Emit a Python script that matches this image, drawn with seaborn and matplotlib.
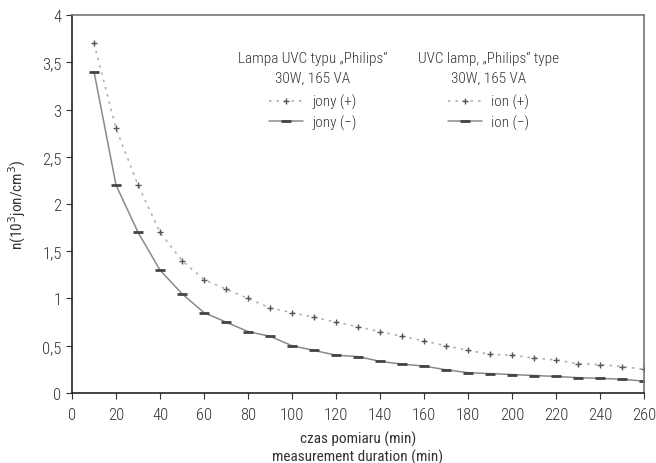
import numpy as np
import pandas as pd
import seaborn as sns
import matplotlib.pyplot as plt
from matplotlib.lines import Line2D

# measurement times (min)
czas = [10, 20, 30, 40, 50, 60, 70, 80, 90, 100, 110, 120, 130,
        140, 150, 160, 170, 180, 190, 200, 210, 220, 230, 240, 250, 260]
# positive ions, 10^3 ion/cm^3
jony_plus = [3.7, 2.8, 2.2, 1.7, 1.4, 1.2, 1.1, 1.0, 0.9, 0.85, 0.8, 0.75, 0.7,
             0.65, 0.6, 0.55, 0.5, 0.45, 0.41, 0.4, 0.37, 0.35, 0.31, 0.3, 0.28, 0.25]
# negative ions
jony_minus = [3.4, 2.2, 1.7, 1.3, 1.05, 0.85, 0.75, 0.65, 0.6, 0.5, 0.45, 0.4, 0.385,
              0.335, 0.305, 0.285, 0.245, 0.215, 0.205, 0.195, 0.185, 0.175, 0.162,
              0.155, 0.145, 0.125]

df = pd.DataFrame({"czas": czas, "plus": jony_plus, "minus": jony_minus})

sns.set_style("ticks")
plt.rcParams['font.family'] = ['Roboto Condensed', 'Roboto', 'DejaVu Sans']
plt.rcParams['font.weight'] = 300
plt.rcParams['font.size'] = 11

TXT = "#333333"

fig = plt.figure(figsize=(6.56, 4.64), dpi=100)
ax = fig.add_axes([0.1098, 0.1509, 0.872, 0.8146])

sns.lineplot(data=df, x="czas", y="plus", ax=ax, color="#b0b0b0",
             linestyle=(0, (1.5, 3)), linewidth=1.2, marker="+",
             markersize=5, markeredgecolor="#555555", markeredgewidth=1.0)
sns.lineplot(data=df, x="czas", y="minus", ax=ax, color="#8a8a8a",
             linewidth=1.1, marker="_", markersize=7,
             markeredgecolor="#444444", markeredgewidth=2)

ax.set_xlim(0, 260)
ax.set_ylim(0, 4)
ax.set_xticks(range(0, 261, 20))
ax.set_yticks(np.arange(0, 4.01, 0.5))
ax.set_yticklabels([("%g" % v).replace(".", ",") for v in np.arange(0, 4.01, 0.5)])
ax.tick_params(axis="both", labelsize=12, colors=TXT, length=4, width=0.8)
ax.tick_params(axis="x", pad=6)

for side in ["left", "bottom"]:
    ax.spines[side].set_color("#222222")
    ax.spines[side].set_linewidth(1.2)
for side in ["top", "right"]:
    ax.spines[side].set_color("#777777")
    ax.spines[side].set_linewidth(1.2)

ax.set_xlabel("czas pomiaru (min)\nmeasurement duration (min)", fontsize=11,
              color=TXT, linespacing=1.3, labelpad=6)
ax.set_ylabel("n(10$^3$jon/cm$^3$)", fontsize=11, color=TXT, labelpad=10)

h_plus = Line2D([], [], color="#b0b0b0", linestyle=(0, (1.5, 3)), linewidth=1.2,
                marker="+", markersize=5, markeredgecolor="#555555", markeredgewidth=1.0)
h_minus = Line2D([], [], color="#8a8a8a", linewidth=1.1, marker="_", markersize=7,
                 markeredgecolor="#444444", markeredgewidth=2)


def blok(labels, title, xc):
    leg = ax.legend([h_plus, h_minus], labels, title=title,
                    loc="center", bbox_to_anchor=(xc, 0.8), frameon=False,
                    fontsize=11, title_fontsize=11, handlelength=2.2,
                    labelspacing=0.35, handletextpad=0.6)
    for t in leg.get_texts():
        t.set_color(TXT)
    leg.get_title().set_color(TXT)
    leg.get_title().set_multialignment("center")
    leg.get_title().set_linespacing(1.45)
    leg._legend_box.sep = 7
    return leg


leg1 = blok(["jony (+)", "jony (\u2212)"],
            "Lampa UVC typu \u201ePhilips\u201d\n30W, 165 VA", 0.421)
ax.add_artist(leg1)
blok(["ion (+)", "ion (\u2212)"],
     "UVC lamp, \u201ePhilips\u201d type\n30W, 165 VA", 0.728)

fig.savefig("out.png", dpi=100)
